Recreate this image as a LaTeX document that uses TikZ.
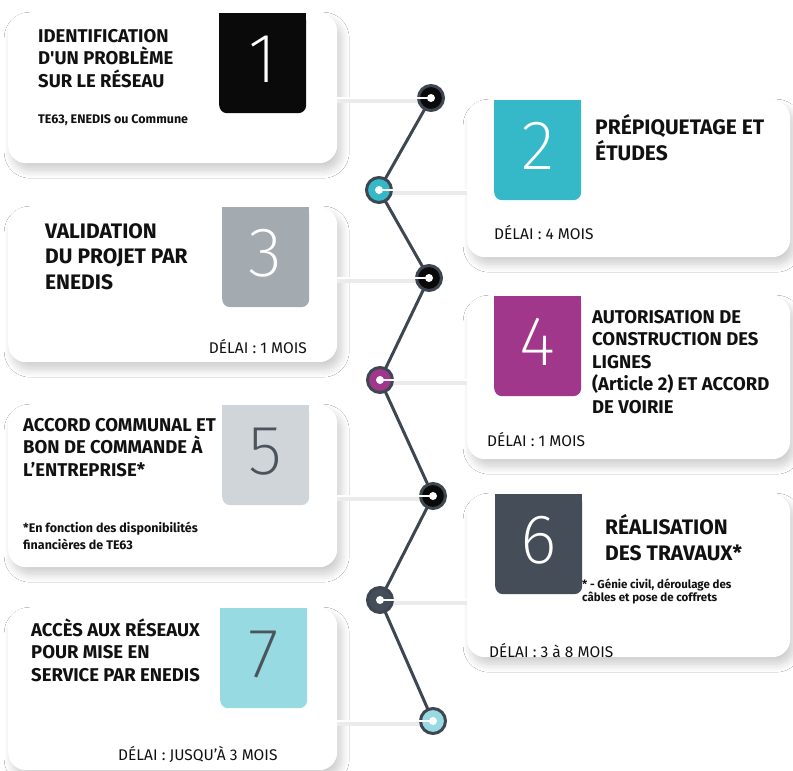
\documentclass[tikz,border=0pt]{standalone}
\usepackage{fontspec}
\setmainfont{Fira Sans}
\newfontfamily\numfont{Fira Sans ExtraLight}
\usepackage{tikz}
\usetikzlibrary{
  arrows.meta, positioning, calc, shadows.blur
}
\definecolor{ST_ONE}  {HTML}{0A0A0A}
\definecolor{ST_TWO}  {HTML}{35B8C8}
\definecolor{ST_THREE}{HTML}{A4ABB0}
\definecolor{ST_FOUR} {HTML}{A0378A}
\definecolor{ST_FIVE} {HTML}{D0D5D9}
\definecolor{ST_SIX}  {HTML}{454E58}
\definecolor{ST_SEVEN}{HTML}{98DAE2}
\definecolor{ST_LINE} {HTML}{3E4751}
\definecolor{ST_DARK} {HTML}{4B535B}
\definecolor{ST_TEXT} {HTML}{111111}
\tikzset{
  %% -- white step card --
  TL/card/.style={
    fill=white, rounded corners=18pt, inner sep=0pt, anchor=north west,
    blur shadow={shadow xshift=4pt, shadow yshift=-7pt,
      shadow blur radius=8pt, shadow blur steps=12, shadow opacity=20}
  },
  %% -- coloured number box --
  TL/num/.style={
    rounded corners=8pt, inner sep=0pt, anchor=north west,
    minimum width=87pt, minimum height=100pt, text=white,
    text depth=8pt, font=\numfont\fontsize{70}{70}\selectfont
  },
  %% -- step titles (placed at the baseline of their last line) --
  TL/title/.style={
    anchor=base west, align=left, inner sep=0pt, text=ST_TEXT,
    font=\bfseries\fontsize{18.5}{22.2}\selectfont
  },
  TL/titlebig/.style={TL/title, font=\bfseries\fontsize{21}{25.5}\selectfont},
  %% -- delays and notes --
  TL/delay/.style={
    anchor=base west, inner sep=0pt, text=ST_TEXT,
    font=\fontsize{15.5}{18}\selectfont
  },
  TL/note/.style={
    anchor=base west, align=left, inner sep=0pt, text=ST_TEXT,
    font=\bfseries\fontsize{12.5}{16.5}\selectfont
  },
  %% -- timeline --
  TL/zig/.style={draw=ST_LINE, line width=3pt, line join=round},
  TL/dot/.style={
    circle, draw=ST_LINE, line width=3pt, minimum size=25pt, inner sep=0pt
  },
  TL/shade/.style={draw=black!8, line width=5pt},
  TL/link/.style={draw=white, line width=1.3pt},
}
\begin{document}
\begin{tikzpicture}[x=1pt, y=-1pt]
\useasboundingbox (0,0) rectangle (793,771);
\fill[white] (0,0) rectangle (793,771);

%% ── Cards ────────────────────────────────────────────────────
\node[TL/card, minimum width=329, minimum height=150] (c1) at (8,13) {};
\node[TL/card, minimum width=323, minimum height=157] (c2) at (467,100) {};
\node[TL/card, minimum width=329, minimum height=155] (c3) at (8,207) {};
\node[TL/card, minimum width=323, minimum height=163] (c4) at (467,296) {};
\node[TL/card, minimum width=329, minimum height=162] (c5) at (8,405) {};
\node[TL/card, minimum width=323, minimum height=163] (c6) at (467,494) {};
\node[TL/card, minimum width=329, minimum height=162] (c7) at (8,608) {};

%% ── Number boxes ─────────────────────────────────────────────
\node[TL/num, fill=ST_ONE]   (n1) at (219,13)  {1};
\node[TL/num, fill=ST_TWO]   (n2) at (494,100) {2};
\node[TL/num, fill=ST_THREE] (n3) at (222,207) {3};
\node[TL/num, fill=ST_FOUR]  (n4) at (494,296) {4};
\node[TL/num, fill=ST_FIVE, text=ST_DARK] (n5) at (222,405) {5};
\node[TL/num, fill=ST_SIX]   (n6) at (495,494) {6};
\node[TL/num, fill=ST_SEVEN, text=ST_DARK] (n7) at (220,608) {7};
%% square top corners
\foreach \i/\c in {1/ST_ONE, 2/ST_TWO, 3/ST_THREE, 4/ST_FOUR,
                   5/ST_FIVE, 6/ST_SIX, 7/ST_SEVEN}
  \fill[\c] (n\i.north west) rectangle ([yshift=-12pt]n\i.north east);

%% ── Texts ────────────────────────────────────────────────────
%% 1. identification
\node[TL/title] (t1) at (38,87)
  {IDENTIFICATION\\D\textquotesingle UN PROBLÈME\\SUR LE RÉSEAU};
\node[TL/note] (s1) at (38,123) {TE63, ENEDIS ou Commune};

%% 2. prépiquetage
\node[TL/titlebig] (t2) at (595,160) {PRÉPIQUETAGE ET\\ÉTUDES};
\node[TL/delay] (d2) at (494,239) {DÉLAI : 4 MOIS};

%% 3. validation
\node[TL/titlebig] (t3) at (45,289) {VALIDATION\\DU PROJET PAR\\ENEDIS};
\node[TL/delay, anchor=base east] (d3) at (307,353) {DÉLAI : 1 MOIS};

%% 4. autorisation
\node[TL/title, font=\bfseries\fontsize{18.5}{22.5}\selectfont] (t4) at (592,413)
  {AUTORISATION DE\\CONSTRUCTION DES\\LIGNES\\(Article 2) ET ACCORD\\DE VOIRIE};
\node[TL/delay] (d4) at (487,446) {DÉLAI : 1 MOIS};

%% 5. accord communal
\node[TL/title] (t5) at (23,476)
  {ACCORD COMMUNAL ET\\BON DE COMMANDE À\\L’ENTREPRISE*};
\node[TL/note] (f5) at (23,549)
  {*En fonction des disponibilités\\financières de TE63};

%% 6. réalisation
\node[TL/titlebig] (t6) at (605,560) {RÉALISATION\\DES TRAVAUX*};
\node[TL/note, font=\bfseries\fontsize{11.5}{12.5}\selectfont] (f6) at (582,601)
  {* - Génie civil, déroulage des\\câbles et pose de coffrets};
\node[TL/delay] (d6) at (489,657) {DÉLAI : 3 à 8 MOIS};

%% 7. accès aux réseaux
\node[TL/title] (t7) at (31,681)
  {ACCÈS AUX RÉSEAUX\\POUR MISE EN\\SERVICE PAR ENEDIS};
\node[TL/delay] (d7) at (118,760) {DÉLAI : JUSQU’À 3 MOIS};

%% ── Timeline ─────────────────────────────────────────────────
\coordinate (p1) at (431,98);
\coordinate (p2) at (379,190);
\coordinate (p3) at (429,278);
\coordinate (p4) at (380,380);
\coordinate (p5) at (433,496);
\coordinate (p6) at (380,600);
\coordinate (p7) at (433,721);

\draw[TL/zig] (p1) -- (p2) -- (p3) -- (p4) -- (p5) -- (p6) -- (p7);

%% links card -> dot
\foreach \i/\s in {1/east, 2/west, 3/east, 4/west, 5/east, 6/west, 7/east}
  \draw[TL/shade] ([yshift=-2pt]c\i.\s |- p\i) -- ([yshift=-2pt]p\i);

\foreach \i/\c in {1/ST_ONE, 2/ST_TWO, 3/ST_ONE, 4/ST_FOUR,
                   5/ST_ONE, 6/ST_SIX, 7/ST_SEVEN}
  \node[TL/dot, fill=\c] (d\i) at (p\i) {};

\foreach \i/\s in {1/east, 2/west, 3/east, 4/west, 5/east, 6/west, 7/east} {
  \draw[TL/link] (c\i.\s |- d\i) -- (d\i.center);
  \fill[white] (d\i.center) circle (4);
}

\end{tikzpicture}
\end{document}
